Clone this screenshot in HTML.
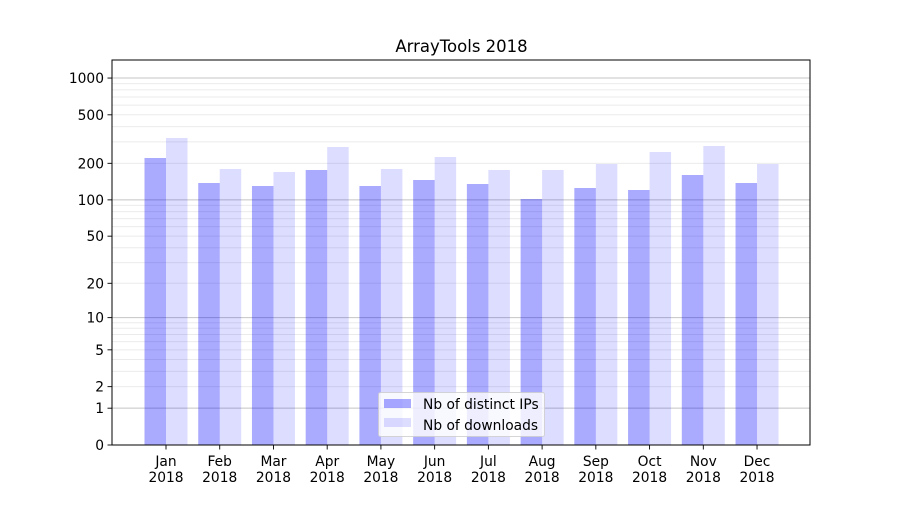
<!DOCTYPE html>
<html><head><meta charset="utf-8"><style>
html,body{margin:0;padding:0;background:#fff;}
svg text{font-family:"DejaVu Sans","Liberation Sans",sans-serif;font-size:13.8px;fill:#000;}
</style></head><body>
<svg id="c" width="900" height="500" xmlns="http://www.w3.org/2000/svg">
<rect width="900" height="500" fill="#fff"/>
<g id="grid"></g>
<g id="bars"></g>
<g id="ax"></g>
<text x="461.5" y="52" text-anchor="middle" style="font-size:16.5px">ArrayTools 2018</text>
<rect x="378.5" y="392.5" width="166" height="44" rx="2" fill="#fff" fill-opacity="0.8" stroke="#ccc" stroke-opacity="0.8"/>
<rect x="384" y="399" width="27" height="9" fill="#0000ff" fill-opacity="0.333"/>
<rect x="384" y="418" width="27" height="9" fill="#0000ff" fill-opacity="0.133"/>
<text x="423" y="409">Nb of distinct IPs</text>
<text x="423" y="430">Nb of downloads</text>
</svg>
<script>
var ns="http://www.w3.org/2000/svg";
function el(p,t,a){var e=document.createElementNS(ns,t);for(var k in a)e.setAttribute(k,a[k]);document.getElementById(p).appendChild(e);return e;}
function Y(v){return 445-122.3*Math.log10(v+1);}
[2,3,4,5,6,7,8,9,20,30,40,50,60,70,80,90,200,300,400,500,600,700,800,900].forEach(function(v){
 var y=Y(v);el("grid","line",{x1:112,x2:810,y1:y,y2:y,stroke:"#ebebeb","stroke-width":1});});
[1,10,100,1000].forEach(function(v){var y=Y(v);el("grid","line",{x1:112,x2:810,y1:y,y2:y,stroke:"#c4c4c4","stroke-width":1});});
var tops=[[158,138],[183,169],[186,172],[170,147],[186,169],[180,157],[184,170],[199,170],[188,164],[190,152],[175,146],[183,164]];
var m=["Jan","Feb","Mar","Apr","May","Jun","Jul","Aug","Sep","Oct","Nov","Dec"];
for(var i=0;i<12;i++){
 var c=166+i*53.73;
 el("bars","rect",{x:c-21.5,y:tops[i][0],width:21.5,height:445-tops[i][0],fill:"#0000ff","fill-opacity":0.333});
 el("bars","rect",{x:c,y:tops[i][1],width:21.5,height:445-tops[i][1],fill:"#0000ff","fill-opacity":0.133});
 el("ax","line",{x1:c,x2:c,y1:445,y2:449.5,stroke:"#000","stroke-width":0.9});
 var t=el("ax","text",{x:c,y:466,"text-anchor":"middle"});t.textContent=m[i];
 t=el("ax","text",{x:c,y:482,"text-anchor":"middle"});t.textContent="2018";
}
[0,1,2,5,10,20,50,100,200,500,1000].forEach(function(v){var y=Y(v);
 el("ax","line",{x1:107.5,x2:112,y1:y,y2:y,stroke:"#000","stroke-width":0.9});
 var t=el("ax","text",{x:104,y:y+5,"text-anchor":"end"});t.textContent=v;});
el("ax","rect",{x:112,y:60,width:698,height:385,fill:"none",stroke:"#000","stroke-width":1});
</script>
</body></html>
